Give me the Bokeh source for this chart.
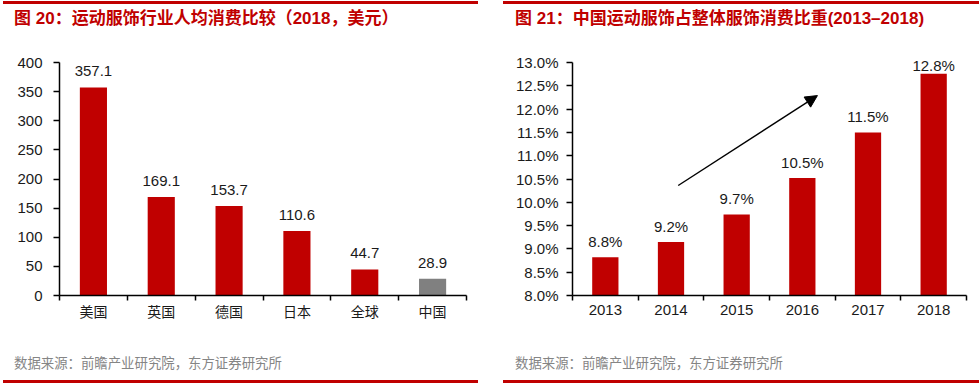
from bokeh.plotting import figure
from bokeh.models import (Range1d, FixedTicker, PrintfTickFormatter, LabelSet,
                          ColumnDataSource, Arrow, NormalHead, Div)
from bokeh.core.properties import value
from bokeh.layouts import column, row
from bokeh.embed import file_html
from bokeh.resources import INLINE

# ---------------- data ----------------
countries = ["美国", "英国", "德国", "日本", "全球", "中国"]
spend_usd = [357.1, 169.1, 153.7, 110.6, 44.7, 28.9]
highlight_country = "中国"
spend_ticks = [0, 50, 100, 150, 200, 250, 300, 350, 400]

years = ["2013", "2014", "2015", "2016", "2017", "2018"]
sport_share = [8.82, 9.15, 9.74, 10.52, 11.50, 12.76]
share_ticks = [8.0, 8.5, 9.0, 9.5, 10.0, 10.5, 11.0, 11.5, 12.0, 12.5, 13.0]

title_left = "图 20：运动服饰行业人均消费比较（2018，美元）"
title_right = "图 21：中国运动服饰占整体服饰消费比重(2013–2018)"
source_note = "数据来源：前瞻产业研究院，东方证券研究所"

# trend arrow (data coordinates of the right chart)
arrow_start = (1.61, 10.36)
arrow_end = (3.73, 12.29)

# ---------------- styles ----------------
RED = "#c00000"
GREY = "#808080"
LATIN = "Liberation Sans"
CJK = "Noto Sans CJK SC"
FONT = "'Liberation Sans', 'Noto Sans CJK SC', sans-serif"

FRAME_H = 233      # pixel height of the axis span (y0..y1)
HEAD_PX = 12       # extra room above the axis top so labels are not clipped
TOP_B = 16
BOT_B = 35
TOP_DIV_H = 46
BOT_DIV_H = 50


def make_chart(width, left, right, cats, vals, colors, y0, y1, ticks, fmt,
               labels, pad, cap, cat_font, cat_size, cat_standoff, standoff):
    n = len(cats)
    y_top = y1 + (y1 - y0) * HEAD_PX / FRAME_H
    p = figure(width=width, height=TOP_B + FRAME_H + BOT_B,
               x_range=Range1d(0, n), y_range=Range1d(y0, y_top),
               output_backend="svg", toolbar_location=None,
               min_border_left=left, min_border_right=right,
               min_border_top=TOP_B - HEAD_PX, min_border_bottom=BOT_B,
               margin=(0, 0, 0, 0))
    centers = [i + 0.5 for i in range(n)]
    src = ColumnDataSource(dict(x=centers, top=vals, color=colors, label=labels,
                                ly=[min(v + pad, cap) for v in vals]))
    p.vbar(x="x", top="top", bottom=y0, width=0.4, fill_color="color",
           line_color=None, source=src)
    p.add_layout(LabelSet(x="x", y="ly", text="label", source=src,
                          text_align="center", text_baseline="middle",
                          text_font_size=value("15px"), text_font=value(LATIN),
                          text_color="#1a1a1a"))
    p.grid.visible = False
    p.outline_line_color = None
    p.background_fill_color = "white"
    p.border_fill_color = "white"

    xa = p.xaxis[0]
    xa.ticker = FixedTicker(ticks=centers, minor_ticks=list(range(n + 1)))
    xa.major_label_overrides = {c: lab for c, lab in zip(centers, cats)}
    xa.major_tick_out = 0
    xa.major_tick_in = 0
    xa.minor_tick_out = 5
    xa.minor_tick_in = 0
    xa.minor_tick_line_color = "black"
    xa.minor_tick_line_width = 1.5
    xa.axis_line_color = "black"
    xa.axis_line_width = 1.5
    xa.major_label_standoff = cat_standoff
    xa.major_label_text_font = cat_font
    xa.major_label_text_font_size = cat_size
    xa.major_label_text_color = "#1a1a1a"

    ya = p.yaxis[0]
    ya.bounds = (y0, y1)
    ya.ticker = FixedTicker(ticks=ticks)
    if fmt is not None:
        ya.formatter = fmt
    ya.major_tick_out = 6
    ya.major_tick_in = 0
    ya.major_tick_line_color = "black"
    ya.major_tick_line_width = 1.5
    ya.minor_tick_line_color = None
    ya.axis_line_color = "black"
    ya.axis_line_width = 1.5
    ya.major_label_standoff = standoff
    ya.major_label_text_font = LATIN
    ya.major_label_text_font_size = "15px"
    ya.major_label_text_color = "#1a1a1a"
    return p


def top_div(width, line_left, line_width, text_left, text):
    html = (f'<div style="margin-left:{line_left}px;margin-top:1px;width:{line_width}px;height:3px;background:{RED}"></div>'
            f'<div style="margin-left:{text_left}px;margin-top:5px;font-family:{FONT};font-size:17px;'
            f'font-weight:bold;color:{RED};line-height:20px;white-space:nowrap">{text}</div>')
    return Div(text=html, width=width, height=TOP_DIV_H, margin=(0, 0, 0, 0))


def bottom_div(width, line_left, line_width, text_left, text):
    html = (f'<div style="margin-left:{text_left}px;margin-top:26px;font-family:{FONT};font-size:13.4px;'
            f'color:#858585;line-height:16px;white-space:nowrap">{text}</div>'
            f'<div style="margin-left:{line_left}px;margin-top:8px;width:{line_width}px;height:3px;background:{RED}"></div>')
    return Div(text=html, width=width, height=BOT_DIV_H, margin=(0, 0, 0, 0))


LW, RW = 490, 489
H = TOP_DIV_H + TOP_B + FRAME_H + BOT_B + BOT_DIV_H

left_colors = [GREY if c == highlight_country else RED for c in countries]
p_left = make_chart(LW, 59, 24, countries, spend_usd, left_colors, 0, 400, spend_ticks, None,
                    [f"{v:.1f}" for v in spend_usd], 27.5, 395, CJK, "14px", 0, 11)

right_colors = [RED for _ in years]
p_right = make_chart(RW, 82, 13, years, sport_share, right_colors, 8.0, 13.0, share_ticks,
                     PrintfTickFormatter(format="%.1f%%"),
                     [f"{v:.1f}%" for v in sport_share], 0.34, 12.94, LATIN, "15px", 4, 8)
p_right.add_layout(Arrow(end=NormalHead(size=12, fill_color="black", line_color="black", line_width=1),
                         x_start=arrow_start[0], y_start=arrow_start[1],
                         x_end=arrow_end[0], y_end=arrow_end[1],
                         line_color="black", line_width=1.4))

left_col = column(top_div(LW, 3, 475, 14, title_left), p_left,
                  bottom_div(LW, 3, 475, 14, source_note),
                  spacing=0, width=LW, height=H, margin=(0, 0, 0, 0))
right_col = column(top_div(RW, 13, 476, 25, title_right), p_right,
                   bottom_div(RW, 13, 476, 25, source_note),
                   spacing=0, width=RW, height=H, margin=(0, 0, 0, 0))
layout = row(left_col, right_col, spacing=0, width=LW + RW, height=H, margin=(0, 0, 0, 0))

open("out.html", "w").write(file_html(layout, INLINE))
